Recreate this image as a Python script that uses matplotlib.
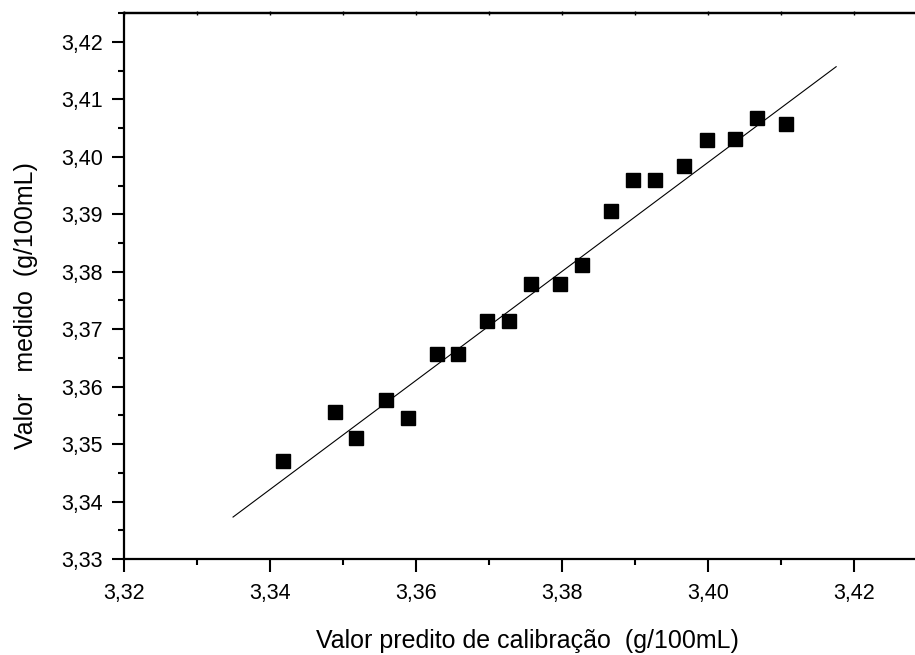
import numpy as np
import matplotlib

matplotlib.use('Agg')
import matplotlib.pyplot as plt
from matplotlib.ticker import MultipleLocator, FuncFormatter

plt.rcParams['font.family'] = ['Liberation Sans', 'DejaVu Sans']

# valores
predito = [3.3418, 3.3488, 3.3518, 3.3558, 3.3588, 3.3628, 3.3657,
           3.3697, 3.3727, 3.3757, 3.3797, 3.3827, 3.3867, 3.3897,
           3.3927, 3.3966, 3.3998, 3.4037, 3.4067, 3.4106]
medido = [3.3471, 3.3556, 3.3510, 3.3576, 3.3545, 3.3657, 3.3657,
          3.3714, 3.3714, 3.3778, 3.3778, 3.3812, 3.3905, 3.3960,
          3.3960, 3.3984, 3.4030, 3.4031, 3.4068, 3.4057]

# reta de regressao (extremos)
reta_x = [3.3349, 3.4175]
reta_y = [3.3373, 3.4157]

xlabel = "Valor predito de calibração  (g/100mL)"
ylabel = "Valor   medido  (g/100mL)"

fig = plt.figure(figsize=(9.15, 6.55), dpi=100)
ax = fig.add_axes([0.1358, 0.1466, 0.8642, 0.9797 - 0.1466])

ax.plot(reta_x, reta_y, color='black', lw=0.8)
ax.plot(predito, medido, ls='none', marker='s', ms=9.4, color='black')

ax.set_xlim(3.32, 3.4283)
ax.set_ylim(3.33, 3.425)

comma = FuncFormatter(lambda v, p: f"{v:.2f}".replace('.', ','))
ax.xaxis.set_major_locator(MultipleLocator(0.02))
ax.xaxis.set_minor_locator(MultipleLocator(0.01))
ax.yaxis.set_major_locator(MultipleLocator(0.01))
ax.yaxis.set_minor_locator(MultipleLocator(0.005))
ax.xaxis.set_major_formatter(comma)
ax.yaxis.set_major_formatter(comma)

ax.spines['right'].set_visible(False)
for s in ['left', 'bottom', 'top']:
    ax.spines[s].set_linewidth(1.6)

ax.tick_params(which='major', direction='out', length=9, width=1.5, labelsize=15.5)
ax.tick_params(axis='x', which='major', pad=8)
ax.tick_params(axis='y', which='major', pad=6.5)
ax.tick_params(which='minor', direction='out', length=4.5, width=1.5)

# ticks pequenos no eixo superior
secax = ax.secondary_xaxis('top')
secax.xaxis.set_major_locator(MultipleLocator(0.02))
secax.xaxis.set_minor_locator(MultipleLocator(0.01))
secax.tick_params(which='both', direction='inout', length=3, width=1, labeltop=False)
secax.spines['top'].set_linewidth(1.6)

ax.set_xlabel(xlabel, fontsize=18)
ax.set_ylabel(ylabel, fontsize=18)
ax.xaxis.set_label_coords(0.51, -0.128)
ax.yaxis.set_label_coords(-0.109, 0.465)

plt.savefig('out.png', dpi=100)
plt.close()
